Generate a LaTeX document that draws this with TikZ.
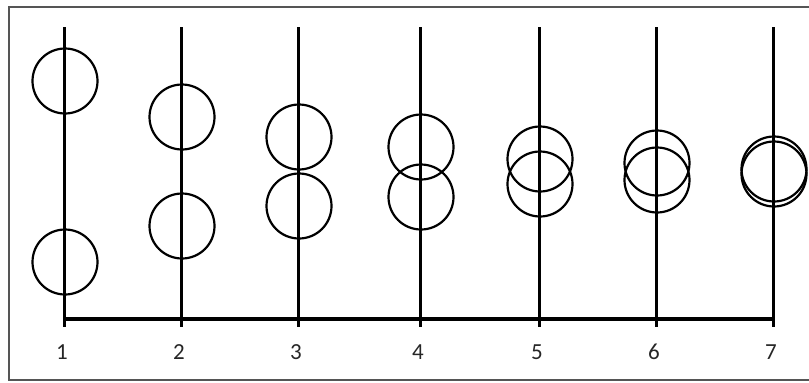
\documentclass[tikz,border=0pt]{standalone}
\usepackage{fontspec}
\setmainfont{Carlito}
\usetikzlibrary{calc}
\definecolor{Frame}{HTML}{555555}
\tikzset{
 rod/.style={line width=3pt,draw=black},
 base/.style={line width=3.5pt,draw=black},
 ball/.style={draw=black,line width=2.2pt,circle,minimum size=65pt,inner sep=0pt},
 tick/.style={font=\fontsize{23}{23}\selectfont,inner sep=0pt,text=black!85},
 frame/.style={line width=2pt,draw=Frame}
}
\begin{document}
\begin{tikzpicture}[x=1pt,y=-1pt]
\useasboundingbox (0,0) rectangle (809,383);
\clip (0,0) rectangle (809,383);
\draw[frame] (830,7) -- (9,7) -- (9,380) -- (830,380);
\foreach \n/\x/\ya/\yb in {1/64/81/262,2/181/117/226,3/298/137/206,4/420/147/197,5/539/159/184,6/656/163/180,7/773/169/174}{
  \coordinate (t\n) at (\x,27);
  \coordinate (b\n) at (\x,327);
  \coordinate (h\n) at (\x,319);
  \draw[rod] (t\n) -- (b\n);
  \node[ball] (u\n) at (\x+1,\ya) {};
  \node[ball] (d\n) at (\x+1,\yb) {};
  \node[tick] (l\n) at (\x-2,352) {\n};
}
\draw[base] (h1) -- (h7);
\end{tikzpicture}
\end{document}
